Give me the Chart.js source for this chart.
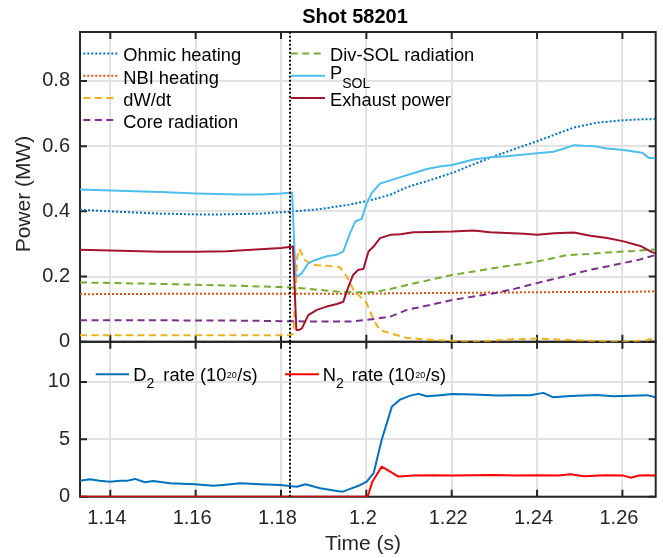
<!DOCTYPE html>
<html><head><meta charset="utf-8">
<script src="https://cdn.jsdelivr.net/npm/chart.js@4.4.0/dist/chart.umd.min.js"></script>
<style>html,body{margin:0;padding:0;background:#fff;}#wrap{position:relative;width:663px;height:558px;}canvas{display:block;}</style>
</head><body><div id="wrap"><canvas id="c" width="663" height="558"></canvas></div>
<script>
const FONT = "'Liberation Sans', Arial, Helvetica, sans-serif";

// ---- axes / ticks ----
const xRange = [1.1329, 1.2678];
const xTicks = [1.14, 1.16, 1.18, 1.2, 1.22, 1.24, 1.26];
const xTickLabels = ['1.14', '1.16', '1.18', '1.2', '1.22', '1.24', '1.26'];
const powerRange = [0, 0.95];
const powerTicks = [0, 0.2, 0.4, 0.6, 0.8];
const powerTickLabels = ['0', '0.2', '0.4', '0.6', '0.8'];
const rateRange = [0, 13.5];
const rateTicks = [0, 5, 10];
const rateTickLabels = ['0', '5', '10'];
const markerTime = [1.1821];

// ---- text ----
const chartTitle = 'Shot 58201';
const yTitle = 'Power (MW)';
const xTitle = 'Time (s)';
const legendCol1 = ['Ohmic heating', 'NBI heating', 'dW/dt', 'Core radiation'];
const legendCol2 = ['Div-SOL radiation', 'P|SOL', 'Exhaust power'];
const legendRates = ['D|2', 'N|2'];

// ---- top panel series (MW) ----
const ohmicT = [1.1329,1.1399,1.1517,1.1634,1.1751,1.1821,1.1892,1.1962,1.2009,1.2056,1.2095,1.2150,1.2201,1.2251,1.2300,1.2349,1.2400,1.2443,1.2486,1.2541,1.2599,1.2640,1.2677];
const ohmicV = [0.405,0.400,0.393,0.390,0.393,0.399,0.407,0.421,0.434,0.451,0.474,0.496,0.518,0.544,0.569,0.592,0.615,0.636,0.657,0.672,0.679,0.682,0.683];

const nbiT = [1.1329,1.1500,1.1700,1.1900,1.2000,1.2100,1.2200,1.2300,1.2400,1.2500,1.2600,1.2650,1.2677];
const nbiV = [0.146,0.147,0.147,0.147,0.148,0.149,0.150,0.151,0.152,0.153,0.153,0.154,0.155];

const dwdtT = [1.1329,1.1500,1.1700,1.1821,1.1829,1.1838,1.1843,1.1856,1.1872,1.1907,1.1938,1.1954,1.1970,1.1989,1.2001,1.2017,1.2032,1.2056,1.2095,1.2150,1.2201,1.2251,1.2300,1.2329,1.2400,1.2447,1.2525,1.2603,1.2658,1.2677];
const dwdtV = [0.020,0.020,0.020,0.020,0.025,0.260,0.285,0.251,0.236,0.233,0.229,0.200,0.159,0.134,0.118,0.067,0.036,0.026,0.012,0.006,0.003,0.000,0.004,0.007,0.010,0.007,0.003,0.000,0.005,0.014];

const coreT = [1.1329,1.1500,1.1700,1.1821,1.1900,1.1962,1.2001,1.2056,1.2095,1.2150,1.2201,1.2251,1.2300,1.2349,1.2400,1.2450,1.2486,1.2525,1.2564,1.2600,1.2640,1.2677];
const coreV = [0.066,0.066,0.065,0.063,0.062,0.062,0.067,0.077,0.098,0.113,0.128,0.139,0.149,0.163,0.180,0.196,0.208,0.221,0.231,0.241,0.252,0.266];

const divT = [1.1329,1.1500,1.1700,1.1821,1.1860,1.1931,1.1980,1.2016,1.2056,1.2095,1.2150,1.2201,1.2300,1.2400,1.2470,1.2520,1.2564,1.2620,1.2677];
const divV = [0.182,0.178,0.172,0.167,0.163,0.154,0.152,0.152,0.162,0.174,0.190,0.205,0.226,0.246,0.266,0.269,0.274,0.278,0.283];

const psolT = [1.1329,1.1400,1.1517,1.1600,1.1700,1.1751,1.1800,1.1826,1.1834,1.1841,1.1849,1.1864,1.1880,1.1907,1.1931,1.1946,1.1962,1.1974,1.1989,1.2001,1.2013,1.2032,1.2056,1.2080,1.2110,1.2142,1.2175,1.2201,1.2251,1.2290,1.2329,1.2370,1.2400,1.2438,1.2462,1.2486,1.2510,1.2533,1.2564,1.2603,1.2646,1.2662,1.2677];
const psolV = [0.467,0.464,0.459,0.455,0.452,0.452,0.455,0.458,0.205,0.202,0.211,0.241,0.251,0.262,0.267,0.277,0.334,0.369,0.377,0.426,0.457,0.485,0.495,0.505,0.517,0.530,0.538,0.542,0.559,0.566,0.569,0.574,0.578,0.583,0.592,0.603,0.601,0.600,0.593,0.588,0.580,0.564,0.564];

const exhT = [1.1329,1.1400,1.1517,1.1600,1.1673,1.1751,1.1800,1.1828,1.1836,1.1841,1.1849,1.1864,1.1884,1.1907,1.1931,1.1946,1.1958,1.1969,1.1981,1.1993,1.2005,1.2017,1.2032,1.2056,1.2080,1.2110,1.2150,1.2201,1.2251,1.2290,1.2329,1.2370,1.2400,1.2440,1.2486,1.2525,1.2564,1.2603,1.2642,1.2669,1.2677];
const exhV = [0.282,0.280,0.276,0.276,0.278,0.284,0.288,0.292,0.036,0.036,0.041,0.082,0.098,0.108,0.116,0.123,0.169,0.205,0.221,0.223,0.277,0.292,0.318,0.328,0.330,0.336,0.337,0.338,0.341,0.336,0.334,0.331,0.328,0.333,0.335,0.325,0.318,0.308,0.294,0.275,0.272];

// ---- bottom panel series (1e20/s) ----
const d2T = [1.1329,1.1352,1.1375,1.1399,1.1423,1.1441,1.1458,1.1481,1.1500,1.1540,1.1599,1.1641,1.1670,1.1704,1.1751,1.1798,1.1837,1.1857,1.1892,1.1931,1.1945,1.1962,1.1985,1.2001,1.2017,1.2036,1.2060,1.2079,1.2103,1.2122,1.2142,1.2173,1.2201,1.2251,1.2306,1.2349,1.2384,1.2415,1.2438,1.2478,1.2540,1.2579,1.2619,1.2658,1.2677];
const d2V = [1.40,1.52,1.40,1.31,1.40,1.40,1.55,1.26,1.37,1.17,1.08,0.96,1.05,1.17,1.08,1.02,0.87,1.08,0.73,0.50,0.44,0.68,1.00,1.31,2.05,4.96,7.87,8.46,8.81,8.96,8.75,8.85,8.96,8.90,8.81,8.85,8.84,9.05,8.66,8.78,8.87,8.75,8.80,8.85,8.66];

const n2T = [1.1329,1.2003,1.2014,1.2036,1.2056,1.2075,1.2110,1.2160,1.2201,1.2251,1.2300,1.2349,1.2400,1.2450,1.2478,1.2510,1.2560,1.2603,1.2619,1.2640,1.2658,1.2677];
const n2V = [0,0,1.31,2.62,2.19,1.75,1.84,1.86,1.84,1.87,1.90,1.84,1.87,1.84,1.96,1.78,1.86,1.84,1.66,1.84,1.87,1.84];

// ---- styles ----
const C = {ohmic:'#0072BD', nbi:'#D95319', dwdt:'#EDB120', core:'#7E2F8E', div:'#77AC30', psol:'#4DBEEE', exh:'#A2142F', d2:'#0072BD', n2:'#FF0000'};
const DOT = [2, 2];
const DASH = [7, 4.5];
const SOLID = [];
const AXC = '#262626';

function pts(t, v) { return t.map((x, i) => ({x: x, y: v[i]})); }
function ds(label, t, v, color, dash, axis, order) {
  return {label, data: pts(t, v), borderColor: color, backgroundColor: color, borderWidth: 2,
    borderDash: dash, pointRadius: 0, fill: false, tension: 0, yAxisID: axis, order,
    borderCapStyle: 'butt', borderJoinStyle: 'round'};
}

const datasets = [
  ds('Ohmic heating', ohmicT, ohmicV, C.ohmic, DOT, 'yP', 7),
  ds('NBI heating', nbiT, nbiV, C.nbi, DOT, 'yP', 6),
  ds('dW/dt', dwdtT, dwdtV, C.dwdt, DASH, 'yP', 5),
  ds('Core radiation', coreT, coreV, C.core, DASH, 'yP', 4),
  ds('Div-SOL radiation', divT, divV, C.div, DASH, 'yP', 3),
  ds('PSOL', psolT, psolV, C.psol, SOLID, 'yP', 2),
  ds('Exhaust power', exhT, exhV, C.exh, SOLID, 'yP', 1),
  ds('marker top', [markerTime[0], markerTime[0]], [powerRange[0], powerRange[1]], '#000', DOT, 'yP', 0),
  ds('D2 rate', d2T, d2V, C.d2, SOLID, 'yR', 2),
  ds('N2 rate', n2T, n2V, C.n2, SOLID, 'yR', 1),
  ds('marker bottom', [markerTime[0], markerTime[0]], [rateRange[0], rateRange[1]], '#000', DOT, 'yR', 0)
];

function sample(ctx, x1, x2, y, color, dash) {
  ctx.save(); ctx.strokeStyle = color; ctx.lineWidth = 2; ctx.setLineDash(dash);
  ctx.beginPath(); ctx.moveTo(x1, y); ctx.lineTo(x2, y); ctx.stroke(); ctx.restore();
}
function txt(ctx, s, x, y, size, bold, color) {
  ctx.font = (bold ? 'bold ' : '') + size + 'px ' + FONT;
  ctx.fillStyle = color || '#000';
  ctx.fillText(s, x, y);
  return x + ctx.measureText(s).width;
}

const framePlugin = {
  id: 'frame',
  beforeDatasetsDraw(chart) {
    const ctx = chart.ctx, xs = chart.scales.x;
    const L = chart.chartArea.left, R = chart.chartArea.right;
    ctx.save();
    ctx.strokeStyle = AXC; ctx.lineWidth = 2; ctx.setLineDash([]);
    [[chart.scales.yP, powerTicks], [chart.scales.yR, rateTicks]].forEach(([ys, ticks]) => {
      const T = ys.top, B = ys.bottom, tl = 7;
      ctx.strokeRect(L, T, R - L, B - T);
      ctx.beginPath();
      xTicks.forEach(v => { const p = xs.getPixelForValue(v); ctx.moveTo(p, T); ctx.lineTo(p, T + tl); ctx.moveTo(p, B); ctx.lineTo(p, B - tl); });
      ticks.forEach(v => { const p = ys.getPixelForValue(v); ctx.moveTo(L, p); ctx.lineTo(L + tl, p); ctx.moveTo(R, p); ctx.lineTo(R - tl, p); });
      ctx.stroke();
    });
    ctx.restore();
  },
  afterDraw(chart) {
    const ctx = chart.ctx;
    ctx.save();
    ctx.textAlign = 'left'; ctx.textBaseline = 'alphabetic';
    const LS = 18.3;
    // top legend, column 1
    const col1Colors = [C.ohmic, C.nbi, C.dwdt, C.core], col1Dash = [DOT, DOT, DASH, DASH];
    legendCol1.forEach((s, i) => {
      const base = 61.3 + 22.2 * i;
      sample(ctx, 83.3, 117.3, base - 7.8, col1Colors[i], col1Dash[i]);
      txt(ctx, s, 123.3, base, LS, false, '#000');
    });
    // column 2
    const col2Colors = [C.div, C.psol, C.exh], col2Dash = [DASH, SOLID, SOLID];
    legendCol2.forEach((s, i) => {
      const base = 61.3 + 22.2 * i;
      sample(ctx, 290.7, 325, base - 7.8, col2Colors[i], col2Dash[i]);
      if (s.indexOf('|') >= 0) {
        const parts = s.split('|');
        const nx = txt(ctx, parts[0], 330, base - 4.3, LS, false, '#000');
        txt(ctx, parts[1], nx, base + 4, 14, false, '#000');
      } else {
        txt(ctx, s, 330, base, LS, false, '#000');
      }
    });
    // bottom legend
    const rateColors = [C.d2, C.n2], rateSampleX = [[95.7, 129], [285, 319]], rateTextX = [133.3, 322.7], rateWordX = [163.3, 351.7];
    legendRates.forEach((s, i) => {
      const base = 380.7;
      sample(ctx, rateSampleX[i][0], rateSampleX[i][1], 374.3, rateColors[i], SOLID);
      const parts = s.split('|');
      const nx = txt(ctx, parts[0], rateTextX[i], base, LS, false, '#000');
      txt(ctx, parts[1], nx, base + 7.6, 14, false, '#000');
      let x = txt(ctx, 'rate (10', rateWordX[i], base, LS, false, '#000');
      x = txt(ctx, '20', x + 0.5, base - 2.5, 9, false, '#000');
      txt(ctx, '/s)', x + 0.5, base, LS, false, '#000');
    });
    // title
    ctx.textAlign = 'center';
    txt(ctx, chartTitle, 355, 23.3, 20, true, '#000');
    // x title
    txt(ctx, xTitle, 363, 550, 21, false, AXC);
    // y title
    ctx.translate(30, 194); ctx.rotate(-Math.PI / 2);
    txt(ctx, yTitle, 0, 0, 21, false, AXC);
    ctx.restore();
  }
};

const gridOpt = {color: '#e2e2e2', lineWidth: 2, drawTicks: false};
const tickFont = {size: 20, family: FONT};

new Chart(document.getElementById('c'), {
  type: 'line',
  data: {datasets},
  options: {
    responsive: false, animation: false, devicePixelRatio: 1, events: [],
    layout: {padding: {left: 0, right: 7.3, top: 32, bottom: 0}},
    plugins: {legend: {display: false}, title: {display: false}, tooltip: {enabled: false}},
    scales: {
      x: {type: 'linear', position: 'bottom', min: xRange[0], max: xRange[1],
        afterFit: s => { s.height = 61.3; },
        afterBuildTicks: s => { s.ticks = xTicks.map(v => ({value: v})); },
        ticks: {callback: (v, i) => xTickLabels[i], font: tickFont, color: AXC, padding: 10, labelOffset: -3.5, maxRotation: 0, autoSkip: false},
        grid: gridOpt, border: {display: false}},
      yP: {type: 'linear', position: 'left', stack: 'panels', stackWeight: 2, weight: 1,
        min: powerRange[0], max: powerRange[1],
        afterFit: s => { s.width = 80; },
        afterBuildTicks: s => { s.ticks = powerTicks.map(v => ({value: v})); },
        ticks: {callback: (v, i) => powerTickLabels[i], font: tickFont, color: AXC, padding: 10, autoSkip: false},
        grid: gridOpt, border: {display: false}},
      yR: {type: 'linear', position: 'left', stack: 'panels', stackWeight: 1, weight: 0,
        min: rateRange[0], max: rateRange[1],
        afterFit: s => { s.width = 80; },
        afterBuildTicks: s => { s.ticks = rateTicks.map(v => ({value: v})); },
        ticks: {callback: (v, i) => rateTickLabels[i], font: tickFont, color: AXC, padding: 10, autoSkip: false},
        grid: gridOpt, border: {display: false}}
    }
  },
  plugins: [framePlugin]
});
</script>
</body></html>
